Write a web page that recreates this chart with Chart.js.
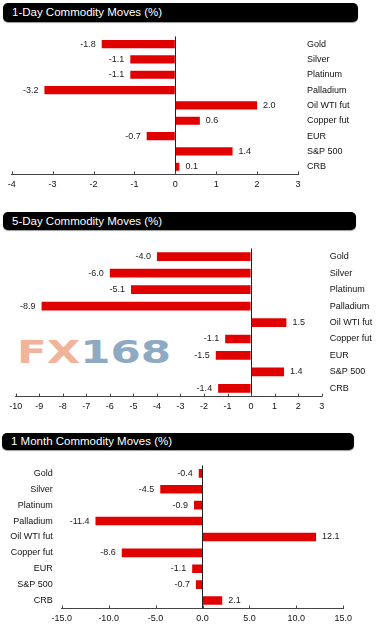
<!DOCTYPE html>
<html>
<head>
<meta charset="utf-8">
<script src="https://cdn.jsdelivr.net/npm/chart.js@4/dist/chart.umd.min.js"></script>
<style>
  html, body { margin: 0; padding: 0; background: #fff; }
  body { width: 381px; height: 634px; position: relative; overflow: hidden; font-family: 'Liberation Sans', Arial, sans-serif; }
  .bar { position: absolute; background: #000; color: #fff; border-radius: 5px; font-size: 11.5px; box-sizing: border-box; padding-left: 9px; box-shadow: 0 1px 1px #999; }
  canvas { position: absolute; left: 0; }
  .wm { position: absolute; left: 17px; top: 336px; font-family: 'DejaVu Sans', sans-serif; font-weight: bold; font-size: 32px; line-height: 32px; transform: scaleX(1.36); transform-origin: left top; white-space: nowrap; }
</style>
</head>
<body>
<div class="wm"><span style="color:#f1b39a">FX</span><span style="color:#8eaac3">168</span></div>
<div class="bar" style="left:3px;top:3px;width:355px;height:19px;line-height:19px;">1-Day Commodity Moves (%)</div>
<div class="bar" style="left:3px;top:212px;width:353px;height:18px;line-height:18px;">5-Day Commodity Moves (%)</div>
<div class="bar" style="left:2px;top:433px;width:352px;height:17px;line-height:17px;">1 Month Commodity Moves (%)</div>
<canvas id="c1" width="381" height="178" style="top:22px"></canvas>
<canvas id="c2" width="381" height="184" style="top:231px"></canvas>
<canvas id="c3" width="381" height="183" style="top:451px"></canvas>
<script>
const categories = ["Gold", "Silver", "Platinum", "Palladium", "Oil WTI fut", "Copper fut", "EUR", "S&P 500", "CRB"];
const oneDay = [-1.8, -1.1, -1.1, -3.2, 2.0, 0.6, -0.7, 1.4, 0.1];
const fiveDay = [-4.0, -6.0, -5.1, -8.9, 1.5, -1.1, -1.5, 1.4, -1.4];
const oneMonth = [-0.4, -4.5, -0.9, -11.4, 12.1, -8.6, -1.1, -0.7, 2.1];
const oneDayTicks = { min: -4, max: 3, step: 1, decimals: 0 };
const fiveDayTicks = { min: -10, max: 3, step: 1, decimals: 0 };
const oneMonthTicks = { min: -15, max: 15, step: 5, decimals: 1 };

const FONT = "'Liberation Sans', Arial, sans-serif";
const W = 381;

const valueLabels = {
  id: 'valueLabels',
  afterDatasetsDraw(chart) {
    const ctx = chart.ctx;
    const meta = chart.getDatasetMeta(0);
    const data = chart.data.datasets[0].data;
    ctx.save();
    ctx.font = "9px " + FONT;
    ctx.fillStyle = '#1a1a1a';
    ctx.textBaseline = 'middle';
    meta.data.forEach((el, i) => {
      const v = data[i];
      const s = v.toFixed(1);
      if (v < 0) { ctx.textAlign = 'right'; ctx.fillText(s, el.x - 6, el.y); }
      else { ctx.textAlign = 'left'; ctx.fillText(s, el.x + 6, el.y); }
    });
    ctx.restore();
  }
};

const tickMarks = {
  id: 'tickMarks',
  afterDraw(chart) {
    const x = chart.scales.x;
    const ctx = chart.ctx;
    const b = chart.chartArea.bottom;
    ctx.save();
    ctx.strokeStyle = '#444';
    ctx.lineWidth = 1;
    x.ticks.forEach(t => {
      const px = Math.round(x.getPixelForValue(t.value)) + 0.5;
      ctx.beginPath(); ctx.moveTo(px, b); ctx.lineTo(px, b - 3); ctx.stroke();
    });
    ctx.restore();
  }
};

function build(id, canvasTop, canvasH, values, tk, area) {
  const yRight = area.yPos === 'right';
  new Chart(document.getElementById(id), {
    type: 'bar',
    data: { labels: categories, datasets: [{ data: values, backgroundColor: '#e00000', borderWidth: 0, barPercentage: area.barPct, categoryPercentage: 1 }] },
    plugins: [valueLabels, tickMarks],
    options: {
      indexAxis: 'y',
      responsive: false,
      animation: false,
      layout: { padding: { top: area.top - canvasTop, bottom: 0, left: yRight ? area.left : 0, right: yRight ? 0 : W - area.right } },
      plugins: { legend: { display: false }, tooltip: { enabled: false }, title: { display: false } },
      scales: {
        x: {
          type: 'linear', min: tk.min, max: tk.max,
          ticks: { stepSize: tk.step, autoSkip: false, maxRotation: 0, padding: 5, color: '#111', font: { family: FONT, size: 9 },
                   callback: v => Number(v).toFixed(tk.decimals) },
          grid: { drawTicks: false, color: c => (c.tick && c.tick.value === 0) ? '#222' : 'rgba(0,0,0,0)', lineWidth: 1 },
          border: { display: true, color: '#444', width: 1 },
          afterFit: ax => { ax.height = canvasTop + canvasH - area.bottom; }
        },
        y: {
          position: area.yPos,
          ticks: { padding: area.labPad, color: '#111', font: { family: FONT, size: 9 }, autoSkip: false },
          grid: { display: false, drawTicks: false },
          border: { display: false },
          afterFit: ax => { ax.width = yRight ? W - area.right : area.left; }
        }
      }
    }
  });
}

build('c1', 22, 178, oneDay, oneDayTicks, { top: 32.1, bottom: 174.4, left: 11.7, right: 298, yPos: 'right', labPad: 9, barPct: 0.53 });
build('c2', 231, 184, fiveDay, fiveDayTicks, { top: 248.5, bottom: 396.6, left: 15.7, right: 321.7, yPos: 'right', labPad: 8, barPct: 0.53 });
build('c3', 451, 183, oneMonth, oneMonthTicks, { top: 459.3, bottom: 608.5, left: 61.7, right: 343.3, yPos: 'left', labPad: 9, barPct: 0.54 });
</script>
</body>
</html>
